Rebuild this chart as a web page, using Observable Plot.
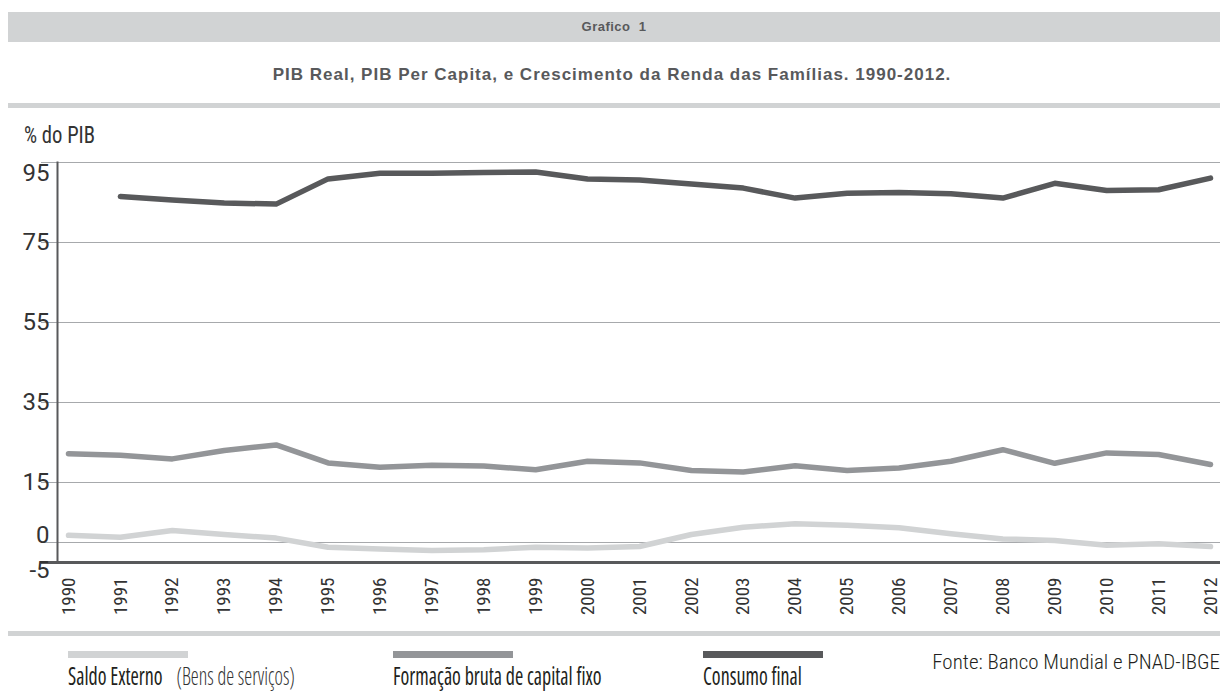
<!DOCTYPE html>
<html>
<head>
<meta charset="utf-8">
<script src="https://cdn.jsdelivr.net/npm/d3@7"></script>
<script src="https://cdn.jsdelivr.net/npm/@observablehq/plot@0.6"></script>
<style>
  html, body { margin: 0; padding: 0; background: #fff; }
  #page { position: relative; width: 1224px; height: 693px; overflow: hidden; font-family: "Liberation Sans", Arial, sans-serif; }
  .cond { font-family: "Roboto Condensed", Roboto, sans-serif; }
  .leg { font-family: "Open Sans", sans-serif; font-stretch: 75%; }
  #band { position: absolute; left: 8px; top: 12px; width: 1212px; height: 30px; background: #d1d3d4; }
  #band span { display: block; text-align: center; line-height: 30px; font-size: 13px; letter-spacing: 0.5px; font-weight: bold; color: #58595b; }
  #title { position: absolute; left: 0; top: 65px; width: 1224px; text-align: center; font-size: 17px; letter-spacing: 1px; font-weight: bold; color: #58595b; }
  .sep { position: absolute; left: 8px; width: 1212px; height: 5px; background: #d1d3d4; }
  #unit { position: absolute; left: 24px; top: 121px; font-size: 24px; line-height: 28px; color: #333; transform: scaleX(0.86); transform-origin: left top; }
  #chart { position: absolute; left: 0; top: 140px; }
  .sw { position: absolute; top: 651px; width: 120px; height: 7px; }
  .lab { position: absolute; top: 663px; font-size: 25px; line-height: 25px; font-weight: 400; color: #231f20; white-space: nowrap; transform: scaleX(0.8); transform-origin: left top; }
  .lab .light { font-weight: 300; color: #333; }
  #fonte { position: absolute; right: 4px; top: 650px; font-size: 21px; font-weight: 300; color: #231f20; }
</style>
</head>
<body>
<div id="page">
  <div id="band"><span>Grafico&nbsp; 1</span></div>
  <div id="title">PIB Real, PIB Per Capita, e Crescimento da Renda das Famílias. 1990-2012.</div>
  <div class="sep" style="top:103px"></div>
  <div id="unit" class="cond">% do PIB</div>
  <div id="chart"></div>
  <div class="sep" style="top:631px"></div>
  <div id="legend"></div>
  <div id="fonte" class="cond">Fonte: Banco Mundial e PNAD-IBGE</div>
</div>
<script>
// Anos da série
const years = [1990, 1991, 1992, 1993, 1994, 1995, 1996, 1997, 1998, 1999, 2000,
  2001, 2002, 2003, 2004, 2005, 2006, 2007, 2008, 2009, 2010, 2011, 2012];

// Saldo externo de bens e serviços (% do PIB)
const saldoExterno = [1.8, 1.3, 3.0, 2.0, 1.1, -1.2, -1.6, -2.0, -1.8, -1.2, -1.4,
  -1.0, 2.0, 3.8, 4.7, 4.3, 3.7, 2.2, 0.9, 0.5, -0.7, -0.3, -1.0];

// Formação bruta de capital fixo (% do PIB)
const formacaoBruta = [22.2, 21.8, 20.9, 23.0, 24.4, 19.9, 18.8, 19.3, 19.1, 18.2, 20.3,
  19.9, 18.0, 17.6, 19.2, 18.0, 18.6, 20.3, 23.2, 19.8, 22.4, 22.0, 19.5];

// Consumo final (% do PIB); sem dado para 1990
const consumoFinal = [null, 86.5, 85.6, 84.9, 84.6, 90.9, 92.3, 92.3, 92.5, 92.6, 90.9,
  90.6, 89.6, 88.6, 86.1, 87.3, 87.5, 87.2, 86.1, 89.8, 88.0, 88.2, 91.1];

// Rótulos do eixo vertical
const yTicks = [95, 75, 55, 35, 15, 0, -5];
const gridValues = [95, 75, 55, 35, 15, 0];

// Séries e cores
const seriesNames = ["Saldo Externo", "Formação bruta de capital fixo", "Consumo final"];
const seriesColors = ["#d1d3d4", "#939598", "#58595b"];
const seriesValues = [saldoExterno, formacaoBruta, consumoFinal];

const axisColor = "#58595b";

const lineMarks = seriesValues.map((vals, i) =>
  Plot.line(years, {
    x: years,
    y: vals,
    stroke: seriesColors[i],
    strokeWidth: 5.5,
    strokeLinecap: "round",
    strokeLinejoin: "round"
  })
);

// rótulos do eixo y: o do topo fica abaixo da grade, o zero acima, o -5 abaixo do eixo
const yLabelShift = t => (t === 95 ? 11 : t === 0 ? -7 : t === -5 ? 8 : 0);
const yAxisMarks = [...new Set(yTicks.map(yLabelShift))].map(shift =>
  Plot.axisY({
    ticks: yTicks.filter(t => yLabelShift(t) === shift),
    tickFormat: d => String(d),
    tickSize: 0,
    tickPadding: 8,
    fontSize: 24,
    fontFamily: "Roboto, sans-serif",
    fill: "#333",
    dy: shift,
    label: null
  })
);

const chart = Plot.plot({
  width: 1224,
  height: 480,
  marginTop: 22,
  marginBottom: 58,
  marginLeft: 57,
  marginRight: 4,
  x: { type: "linear", domain: [1990, 2012], insetLeft: 11, insetRight: 10 },
  y: { domain: [-5, 95] },
  style: { fontFamily: '"Roboto Condensed", Roboto, sans-serif', color: "#333", background: "transparent" },
  marks: [
    // linhas de grade, prolongadas à esquerda do eixo
    Plot.ruleY(gridValues, { stroke: "#a7a9ac", strokeWidth: 1, insetLeft: -16 }),
    ...lineMarks,
    // eixos
    Plot.ruleY([-5], { stroke: axisColor, strokeWidth: 3, insetLeft: -16 }),
    Plot.frame({ anchor: "left", stroke: axisColor, strokeWidth: 2 }),
    ...yAxisMarks,
    Plot.axisX({
      ticks: years, tickFormat: d => String(d), tickSize: 0, tickPadding: 15,
      rotate: -90, textAnchor: "end", lineAnchor: "middle", fontSize: 19,
      fontFamily: '"Roboto Condensed", Roboto, sans-serif', fill: "#333", label: null
    })
  ]
});
document.getElementById("chart").appendChild(chart);

// Legenda
const legend = document.getElementById("legend");
const legendLeft = [68, 393, 703];
seriesNames.forEach((name, i) => {
  const sw = document.createElement("div");
  sw.className = "sw";
  sw.style.left = legendLeft[i] + "px";
  sw.style.background = seriesColors[i];
  legend.appendChild(sw);
  const lab = document.createElement("div");
  lab.className = "lab leg";
  lab.style.left = legendLeft[i] + "px";
  lab.textContent = name;
  if (i === 0) {
    const extra = document.createElement("span");
    extra.className = "light";
    extra.textContent = "\u2002 (Bens de serviços)";
    lab.appendChild(extra);
  }
  legend.appendChild(lab);
});
</script>
</body>
</html>
